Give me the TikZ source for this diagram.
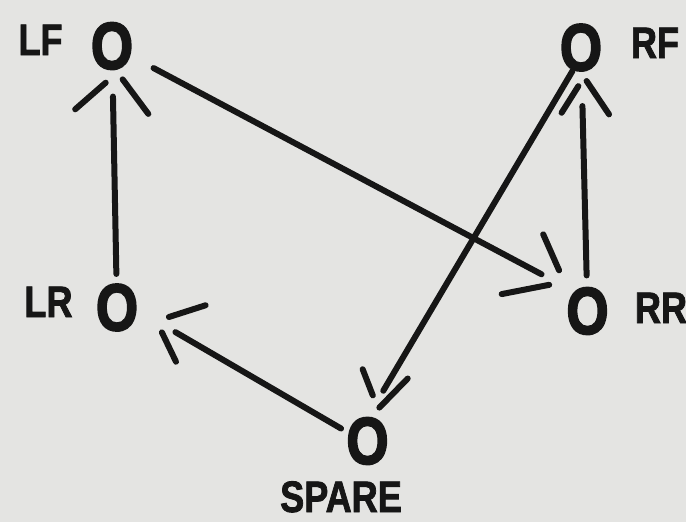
\documentclass[tikz,border=0pt]{standalone}
\usepackage{fontspec}
\setmainfont{Liberation Sans}[BoldFont={Liberation Sans Bold}, BoldFeatures={FakeBold=2}]
\newfontfamily\tirefont{Liberation Sans Bold}[FakeBold=3.2]
\usetikzlibrary{arrows.meta}

\newcommand\bseg[4]{\pgfpathmoveto{\pgfqpoint{#1pt}{#2pt}}\pgfpathlineto{\pgfqpoint{#3pt}{#4pt}}}
\newcommand\mkbarb[3]{%
  \pgfdeclarearrow{
    name=#1,
    setup code={%
      \pgfarrowssettipend{0pt}%
      \pgfarrowssetlineend{#2pt}%
      \pgfarrowssetbackend{-60pt}%
      \pgfarrowssetvisualbackend{#2pt}%
      \pgfarrowshullpoint{0pt}{0pt}%
      \pgfarrowshullpoint{-60pt}{45pt}%
      \pgfarrowshullpoint{-60pt}{-45pt}%
    },
    drawing code={%
      \pgfsetroundcap\pgfsetroundjoin
      #3%
      \pgfusepathqstroke
    }
  }%
}
\mkbarb{barbA}{-27}{\bseg{-13}{7}{-39}{38}\bseg{-10}{-10}{-45}{-35}}
\mkbarb{barbB}{-28}{\bseg{-14.3}{11.7}{-45.3}{36.1}\bseg{-16.3}{-5.7}{-53.9}{-36.2}}
\mkbarb{barbC}{-35}{\bseg{-15}{3.6}{-41.2}{21}\bseg{-10.1}{-4.8}{-44}{-26.4}}
\mkbarb{barbD}{-31}{\bseg{-14.5}{5.2}{-54}{14.8}\bseg{-21.7}{-6.7}{-39}{-28.7}}
\mkbarb{barbE}{-22}{\bseg{-10.4}{7}{-37.4}{25.3}\bseg{-8.8}{-9.8}{-34.6}{-38.4}}

\definecolor{paper}{RGB}{228,228,226}
\definecolor{ink}{RGB}{22,22,22}
\newcommand\narrow[1]{\scalebox{0.82}[1]{#1}}

\begin{document}
\begin{tikzpicture}[x=1pt,y=-1pt,
  tire/.style={inner sep=0pt, text=ink, font=\tirefont\fontsize{66}{66}\selectfont},
  lbl/.style={inner sep=0pt, anchor=base, text=ink, font=\bfseries\fontsize{44}{44}\selectfont},
  conn/.style={draw=ink, line width=6pt, line cap=round}]
\fill[paper] (0,0) rectangle (686,522);
\useasboundingbox (0,0) rectangle (686,522);

\node[tire] (lf) at (112,46) {\narrow{O}};
\node[tire] (rf) at (581,47.5) {\narrow{O}};
\node[tire] (lr) at (117,307.5) {\narrow{O}};
\node[tire] (rr) at (587.5,311) {\narrow{O}};
\node[tire] (sp) at (367.5,441) {\narrow{O}};

\node[lbl] (lflbl) at (40.5,55) {\narrow{LF}};
\node[lbl] (rflbl) at (655,58) {\narrow{RF}};
\node[lbl] (lrlbl) at (48.5,317) {\narrow{LR}};
\node[lbl] (rrlbl) at (661,323) {\narrow{RR}};
\node[lbl] (splbl) at (341,512) {\narrow{SPARE}};

\draw[conn, -{barbA[]}, shorten <=10pt] (lr) -- (lf);
\draw[conn, -{barbB[]}, shorten <=23pt] (lf) -- (rr.north west);
\draw[conn, -{barbC[]}, shorten <=12pt] (rr) -- (rf);
\draw[conn, -{barbD[]}] (rf.250) -- (sp.north);
\draw[conn, -{barbE[]}, shorten <=6pt, shorten >=21pt] (sp.156) -- (lr.352);
\end{tikzpicture}
\end{document}
